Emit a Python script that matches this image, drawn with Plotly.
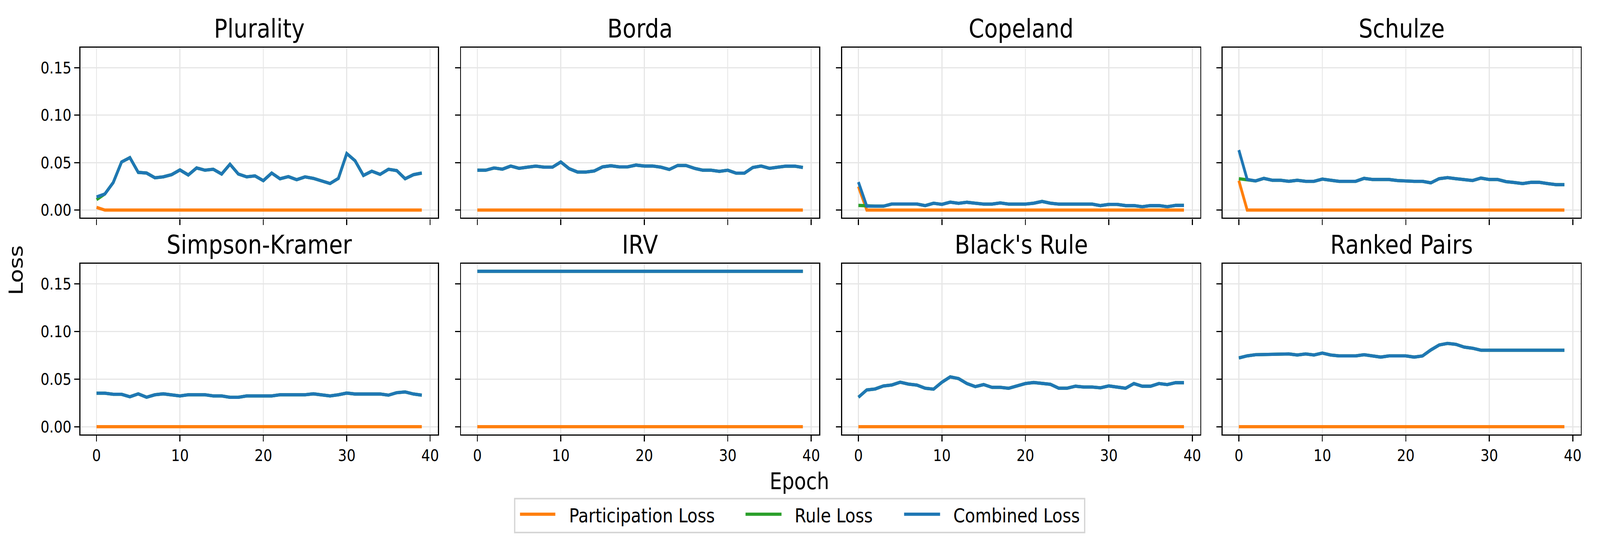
import plotly.graph_objects as go

# ---------------- data ----------------
epochs = list(range(40))
rule_names = ["Plurality", "Borda", "Copeland", "Schulze",
              "Simpson-Kramer", "IRV", "Black's Rule", "Ranked Pairs"]
series_names = ["Participation Loss", "Rule Loss", "Combined Loss"]
x_tick_vals = [0, 10, 20, 30, 40]
y_tick_vals = [0.00, 0.05, 0.10, 0.15]

combined_plurality = [0.0138, 0.017, 0.029, 0.0507, 0.0553, 0.0397, 0.039, 0.034, 0.035, 0.0373,
                      0.0423, 0.037, 0.0444, 0.042, 0.043, 0.038, 0.0483, 0.038, 0.035, 0.036,
                      0.031, 0.039, 0.033, 0.0353, 0.032, 0.035, 0.0334, 0.031, 0.028, 0.0334,
                      0.0596, 0.052, 0.0365, 0.041, 0.0376, 0.043, 0.0416, 0.033, 0.0373, 0.039]
rule_plurality = [0.0110, 0.017, 0.029, 0.0507, 0.0553, 0.0397, 0.039, 0.034, 0.035, 0.0373,
                  0.0423, 0.037, 0.0444, 0.042, 0.043, 0.038, 0.0483, 0.038, 0.035, 0.036,
                  0.031, 0.039, 0.033, 0.0353, 0.032, 0.035, 0.0334, 0.031, 0.028, 0.0334,
                  0.0596, 0.052, 0.0365, 0.041, 0.0376, 0.043, 0.0416, 0.033, 0.0373, 0.039]
participation_plurality = [0.0028] + [0.0] * 39

combined_borda = [0.042, 0.042, 0.0444, 0.0431, 0.0464, 0.044, 0.0452, 0.0463, 0.0452, 0.0452,
                  0.0507, 0.0436, 0.0401, 0.0401, 0.0412, 0.0455, 0.0467, 0.0455, 0.0455, 0.0474,
                  0.0464, 0.0464, 0.0452, 0.0428, 0.047, 0.047, 0.044, 0.042, 0.042, 0.0408,
                  0.042, 0.0389, 0.0389, 0.0449, 0.0464, 0.044, 0.0452, 0.0463, 0.0463, 0.0449]
rule_borda = [0.042, 0.042, 0.0444, 0.0431, 0.0464, 0.044, 0.0452, 0.0463, 0.0452, 0.0452,
              0.0507, 0.0436, 0.0401, 0.0401, 0.0412, 0.0455, 0.0467, 0.0455, 0.0455, 0.0474,
              0.0464, 0.0464, 0.0452, 0.0428, 0.047, 0.047, 0.044, 0.042, 0.042, 0.0408,
              0.042, 0.0389, 0.0389, 0.0449, 0.0464, 0.044, 0.0452, 0.0463, 0.0463, 0.0449]
participation_borda = [0.0] * 40

combined_copeland = [0.0295, 0.0041, 0.0041, 0.0041, 0.0064, 0.0064, 0.0064, 0.0064, 0.0047, 0.0072,
                     0.006, 0.0083, 0.0071, 0.0082, 0.0072, 0.0063, 0.0063, 0.0075, 0.0063, 0.0063,
                     0.0063, 0.0072, 0.0091, 0.0072, 0.0063, 0.0063, 0.0063, 0.0063, 0.0063, 0.0047,
                     0.006, 0.006, 0.0047, 0.0047, 0.0035, 0.0047, 0.0047, 0.0035, 0.0049, 0.0049]
rule_copeland = [0.0049, 0.0041, 0.0041, 0.0041, 0.0064, 0.0064, 0.0064, 0.0064, 0.0047, 0.0072,
                 0.006, 0.0083, 0.0071, 0.0082, 0.0072, 0.0063, 0.0063, 0.0075, 0.0063, 0.0063,
                 0.0063, 0.0072, 0.0091, 0.0072, 0.0063, 0.0063, 0.0063, 0.0063, 0.0063, 0.0047,
                 0.006, 0.006, 0.0047, 0.0047, 0.0035, 0.0047, 0.0047, 0.0035, 0.0049, 0.0049]
participation_copeland = [0.0248] + [0.0] * 39

combined_schulze = [0.0632, 0.0323, 0.0307, 0.0334, 0.0314, 0.0314, 0.0303, 0.0314, 0.0303, 0.0303,
                    0.0326, 0.0314, 0.0303, 0.0303, 0.0303, 0.0334, 0.0322, 0.0322, 0.0322, 0.0311,
                    0.0303, 0.0303, 0.0303, 0.0287, 0.0331, 0.0342, 0.0331, 0.0322, 0.0311, 0.0337,
                    0.0322, 0.0322, 0.030, 0.029, 0.0279, 0.0292, 0.0292, 0.0279, 0.0268, 0.0268]
rule_schulze = [0.0331, 0.0323, 0.0307, 0.0334, 0.0314, 0.0314, 0.0303, 0.0314, 0.0303, 0.0303,
                0.0326, 0.0314, 0.0303, 0.0303, 0.0303, 0.0334, 0.0322, 0.0322, 0.0322, 0.0311,
                0.0303, 0.0303, 0.0303, 0.0287, 0.0331, 0.0342, 0.0331, 0.0322, 0.0311, 0.0337,
                0.0322, 0.0322, 0.030, 0.029, 0.0279, 0.0292, 0.0292, 0.0279, 0.0268, 0.0268]
participation_schulze = [0.031] + [0.0] * 39

combined_simpson = [0.0352, 0.0352, 0.034, 0.034, 0.0314, 0.0345, 0.0309, 0.0335, 0.0345, 0.0335,
                    0.0323, 0.0335, 0.0335, 0.0335, 0.0323, 0.0323, 0.0309, 0.0309, 0.0323, 0.0323,
                    0.0323, 0.0323, 0.0335, 0.0335, 0.0335, 0.0335, 0.0345, 0.0335, 0.0323, 0.0335,
                    0.0353, 0.0343, 0.0343, 0.0343, 0.0343, 0.0331, 0.0357, 0.0365, 0.0343, 0.0331]
rule_simpson = [0.0352, 0.0352, 0.034, 0.034, 0.0314, 0.0345, 0.0309, 0.0335, 0.0345, 0.0335,
                0.0323, 0.0335, 0.0335, 0.0335, 0.0323, 0.0323, 0.0309, 0.0309, 0.0323, 0.0323,
                0.0323, 0.0323, 0.0335, 0.0335, 0.0335, 0.0335, 0.0345, 0.0335, 0.0323, 0.0335,
                0.0353, 0.0343, 0.0343, 0.0343, 0.0343, 0.0331, 0.0357, 0.0365, 0.0343, 0.0331]
participation_simpson = [0.0] * 40

combined_irv = [0.1632] * 40
rule_irv = [0.1632] * 40
participation_irv = [0.0] * 40

combined_blacks = [0.0309, 0.0386, 0.0396, 0.0428, 0.0438, 0.0467, 0.0447, 0.0437, 0.0404, 0.0394,
                   0.0467, 0.0523, 0.0505, 0.0453, 0.0421, 0.0442, 0.0413, 0.0413, 0.0403, 0.0425,
                   0.0453, 0.0464, 0.0453, 0.0445, 0.0404, 0.0404, 0.0425, 0.0416, 0.0416, 0.0408,
                   0.0428, 0.0416, 0.0404, 0.0453, 0.0425, 0.0425, 0.0453, 0.0442, 0.0462, 0.0462]
rule_blacks = [0.0309, 0.0386, 0.0396, 0.0428, 0.0438, 0.0467, 0.0447, 0.0437, 0.0404, 0.0394,
               0.0467, 0.0523, 0.0505, 0.0453, 0.0421, 0.0442, 0.0413, 0.0413, 0.0403, 0.0425,
               0.0453, 0.0464, 0.0453, 0.0445, 0.0404, 0.0404, 0.0425, 0.0416, 0.0416, 0.0408,
               0.0428, 0.0416, 0.0404, 0.0453, 0.0425, 0.0425, 0.0453, 0.0442, 0.0462, 0.0462]
participation_blacks = [0.0] * 40

combined_ranked = [0.0722, 0.0744, 0.0756, 0.0756, 0.0764, 0.0764, 0.0764, 0.0753, 0.0764, 0.0753,
                   0.0773, 0.0753, 0.0744, 0.0744, 0.0744, 0.0756, 0.0744, 0.0731, 0.0744, 0.0744,
                   0.0744, 0.0731, 0.0743, 0.0806, 0.0858, 0.0875, 0.0865, 0.0836, 0.0824, 0.0803,
                   0.0803, 0.0803, 0.0803, 0.0803, 0.0803, 0.0803, 0.0803, 0.0803, 0.0803, 0.0803]
rule_ranked = [0.0722, 0.0744, 0.0756, 0.0756, 0.0764, 0.0764, 0.0764, 0.0753, 0.0764, 0.0753,
               0.0773, 0.0753, 0.0744, 0.0744, 0.0744, 0.0756, 0.0744, 0.0731, 0.0744, 0.0744,
               0.0744, 0.0731, 0.0743, 0.0806, 0.0858, 0.0875, 0.0865, 0.0836, 0.0824, 0.0803,
               0.0803, 0.0803, 0.0803, 0.0803, 0.0803, 0.0803, 0.0803, 0.0803, 0.0803, 0.0803]
participation_ranked = [0.0] * 40

participation_all = [participation_plurality, participation_borda, participation_copeland,
                     participation_schulze, participation_simpson, participation_irv,
                     participation_blacks, participation_ranked]
rule_all = [rule_plurality, rule_borda, rule_copeland, rule_schulze,
            rule_simpson, rule_irv, rule_blacks, rule_ranked]
combined_all = [combined_plurality, combined_borda, combined_copeland, combined_schulze,
                combined_simpson, combined_irv, combined_blacks, combined_ranked]

# ---------------- style / layout ----------------
W, H = 4800, 1377
FONT = "DejaVu Sans"
C_PART, C_RULE, C_COMB = "#ff7f0e", "#2ca02c", "#1f77b4"
LW = 8.3
SPINE = 3.3
GRID = "#e6e6e6"


def px_x(p):
    return p / W


def px_y(p):
    return 1 - p / H


col_px = [(241, 1315), (1384, 2459), (2528, 3603), (3670, 4745)]
row_px = [(122, 559.5), (677, 1116)]
x_range = [-1.95, 40.95]
y_range = [-0.00816, 0.17136]

fig = go.Figure()
layout = dict(
    width=W, height=H,
    margin=dict(l=0, r=0, t=0, b=0),
    paper_bgcolor="white", plot_bgcolor="white",
    font=dict(family=FONT, color="black"),
    showlegend=False,
)
annotations = []
shapes = []

for i, name in enumerate(rule_names):
    r, c = divmod(i, 4)
    ax = "" if i == 0 else str(i + 1)
    xa, ya = "x" + ax, "y" + ax
    for vals, color, sname in [(participation_all[i], C_PART, series_names[0]),
                               (rule_all[i], C_RULE, series_names[1]),
                               (combined_all[i], C_COMB, series_names[2])]:
        fig.add_trace(go.Scatter(x=epochs, y=vals, mode="lines", name=sname,
                                 line=dict(color=color, width=LW),
                                 xaxis=xa, yaxis=ya, showlegend=False))
    x0, x1 = col_px[c]
    yt, yb = row_px[r]
    layout["xaxis" + ax] = dict(
        domain=[px_x(x0), px_x(x1)], anchor=ya, range=x_range,
        tickvals=x_tick_vals, ticktext=[str(v) for v in x_tick_vals],
        showticklabels=(r == 1), ticks="outside", ticklen=15, tickwidth=SPINE,
        tickcolor="black", showline=True, linecolor="black", linewidth=SPINE,
        mirror=True, showgrid=True, gridcolor=GRID, gridwidth=3, zeroline=False,
        tickfont=dict(size=41.7, family=FONT, color="black"),
    )
    layout["yaxis" + ax] = dict(
        domain=[px_y(yb), px_y(yt)], anchor=xa, range=y_range,
        tickvals=y_tick_vals, ticktext=["%.2f" % v for v in y_tick_vals],
        showticklabels=(c == 0), ticks="outside", ticklen=15, tickwidth=SPINE,
        tickcolor="black", showline=True, linecolor="black", linewidth=SPINE,
        mirror=True, showgrid=True, gridcolor=GRID, gridwidth=3, zeroline=False,
        tickfont=dict(size=41.7, family=FONT, color="black"),
    )
    annotations.append(dict(
        text=name, xref="paper", yref="paper",
        x=px_x((x0 + x1) / 2), y=px_y(yt - 8), xanchor="center", yanchor="bottom",
        showarrow=False, font=dict(size=66.7, family=FONT, color="black"),
    ))

# super labels
annotations.append(dict(text="Epoch", xref="paper", yref="paper", x=0.5, y=px_y(1236),
                        xanchor="center", yanchor="middle", showarrow=False,
                        font=dict(size=58.3, family=FONT, color="black")))
annotations.append(dict(text="Loss", xref="paper", yref="paper", x=px_x(49), y=px_y(694),
                        xanchor="center", yanchor="middle", textangle=-90, showarrow=False,
                        font=dict(size=58.3, family=FONT, color="black")))

# legend (drawn as a framed box with line swatches and text)
shapes.append(dict(type="rect", xref="paper", yref="paper",
                   x0=px_x(1545), x1=px_x(3256), y0=px_y(1368), y1=px_y(1281),
                   line=dict(color="#d6d6d6", width=4), fillcolor="white", layer="above"))
legend_items = [(series_names[0], C_PART, 1561, 1667, 1706),
                (series_names[1], C_RULE, 2238, 2346, 2383),
                (series_names[2], C_COMB, 2714, 2822, 2860)]
for label, color, sx0, sx1, tx in legend_items:
    shapes.append(dict(type="line", xref="paper", yref="paper",
                       x0=px_x(sx0), x1=px_x(sx1), y0=px_y(1321), y1=px_y(1321),
                       line=dict(color=color, width=LW), layer="above"))
    annotations.append(dict(text=label, xref="paper", yref="paper", x=px_x(tx), y=px_y(1325),
                            xanchor="left", yanchor="middle", showarrow=False,
                            font=dict(size=50, family=FONT, color="black")))

layout["annotations"] = annotations
layout["shapes"] = shapes
fig.update_layout(**layout)

# Fit the 4800x1377 figure to whatever viewport the page is opened in.
post = """
(function(){
  var gd = document.getElementById('{plot_id}');
  document.documentElement.style.margin = '0';
  document.body.style.margin = '0';
  document.documentElement.style.overflow = 'hidden';
  document.body.style.overflow = 'hidden';
  var sx = window.innerWidth / 4800;
  var sy = window.innerHeight / 1377;
  gd.style.transformOrigin = '0 0';
  gd.style.transform = 'scale(' + sx + ',' + sy + ')';
  var p = gd.parentElement;
  p.style.width = window.innerWidth + 'px';
  p.style.height = window.innerHeight + 'px';
  p.style.overflow = 'hidden';
})();
"""
fig.write_html("out.html", post_script=post, config={"displayModeBar": False})
